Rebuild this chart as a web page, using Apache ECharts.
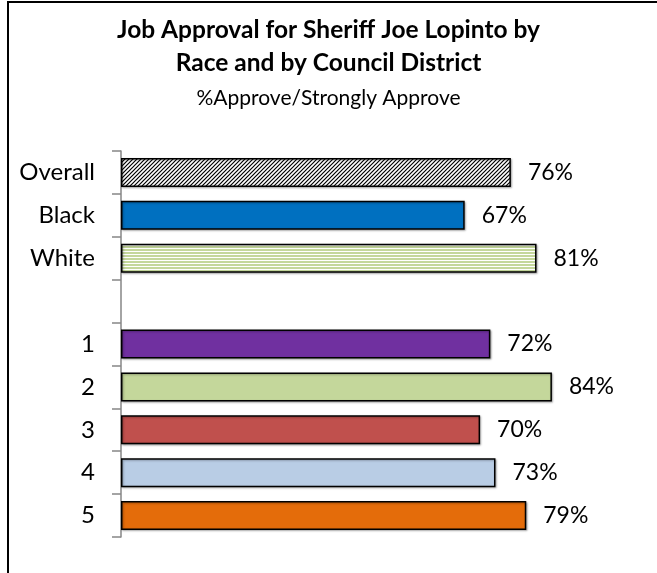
<!DOCTYPE html>
<html>
<head>
<meta charset="utf-8">
<script src="https://cdn.jsdelivr.net/npm/echarts@6/dist/echarts.min.js"></script>
<style>
  html, body { margin: 0; padding: 0; background: #fff; }
  #main { position: absolute; left: 0; top: 0; width: 657px; height: 573px; }
  #frame {
    position: absolute; left: 7px; top: 1px; right: 0; bottom: 0;
    border-left: 2px solid #000; border-top: 2px solid #000;
    pointer-events: none;
  }
</style>
</head>
<body>
<div id="main"></div>
<div id="frame"></div>
<script>
// chart data
const categories = ['Overall', 'Black', 'White', '', '1', '2', '3', '4', '5'];
const approve = [76, 67, 81, null, 72, 84, 70, 73, 79];
const barColors = ['hatch', '#0070C0', 'stripes', null, '#7030A0', '#C4D79B', '#C0504D', '#B9CDE5', '#E46C0A'];

// pattern fills (Overall = diagonal hatch, White = horizontal green lines)
function hatchPattern() {
  const c = document.createElement('canvas');
  c.width = 4; c.height = 4;
  const ctx = c.getContext('2d');
  ctx.fillStyle = '#fff';
  ctx.fillRect(0, 0, 4, 4);
  ctx.strokeStyle = '#000';
  ctx.lineWidth = 1.2;
  ctx.beginPath();
  ctx.moveTo(0, 4); ctx.lineTo(4, 0);
  ctx.moveTo(-1, 1); ctx.lineTo(1, -1);
  ctx.moveTo(3, 5); ctx.lineTo(5, 3);
  ctx.stroke();
  return { image: c, repeat: 'repeat' };
}
function stripePattern() {
  const c = document.createElement('canvas');
  c.width = 4; c.height = 3;
  const ctx = c.getContext('2d');
  ctx.fillStyle = '#fff';
  ctx.fillRect(0, 0, 4, 3);
  ctx.fillStyle = '#C4D79B';
  ctx.fillRect(0, 0, 4, 2);
  return { image: c, repeat: 'repeat' };
}

const fills = { hatch: hatchPattern(), stripes: stripePattern() };

const chart = echarts.init(document.getElementById('main'));
chart.setOption({
  animation: false,
  title: {
    text: 'Job Approval for Sheriff Joe Lopinto by\nRace and by Council District',
    subtext: '%Approve/Strongly Approve',
    left: 'center',
    top: 9,
    itemGap: 8,
    textStyle: { fontFamily: 'Lato', fontWeight: 'bold', fontSize: 24.5, color: '#000', lineHeight: 33 },
    subtextStyle: { fontFamily: 'Lato', fontSize: 21, color: '#000' }
  },
  grid: { left: 121, right: 23, top: 151, bottom: 36 },
  xAxis: {
    type: 'value', min: 0, max: 100, show: false
  },
  yAxis: {
    type: 'category',
    inverse: true,
    data: categories,
    axisLine: { show: true, lineStyle: { color: '#868686', width: 1.5 } },
    axisTick: { show: true, length: 9, alignWithLabel: false, lineStyle: { color: '#868686', width: 1.5 } },
    axisLabel: { margin: 26, fontFamily: 'Lato', fontSize: 24, color: '#000' }
  },
  series: [{
    type: 'bar',
    barWidth: 29,
    data: approve.map((v, i) => ({
      value: v,
      itemStyle: { color: fills[barColors[i]] || barColors[i] }
    })),
    itemStyle: {
      borderColor: '#000', borderWidth: 1.5,
      shadowColor: 'rgba(0,0,0,0.3)', shadowBlur: 2, shadowOffsetX: 1, shadowOffsetY: 1
    },
    label: {
      show: true, position: 'right', distance: 17,
      fontFamily: 'Lato', fontSize: 23, color: '#000',
      formatter: p => p.value == null ? '' : p.value + '%'
    }
  }]
});
</script>
</body>
</html>
